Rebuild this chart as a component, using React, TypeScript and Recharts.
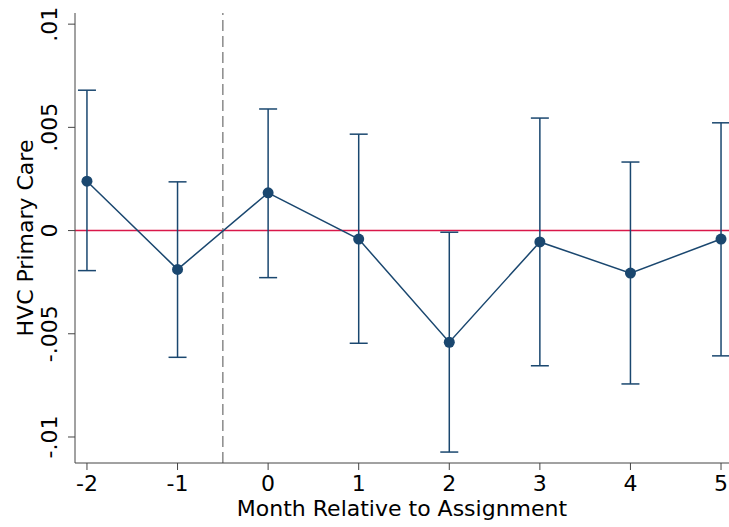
import React from "react";
import {
  ComposedChart,
  Line,
  XAxis,
  YAxis,
  ErrorBar,
  ReferenceLine,
} from "recharts";

const months = [-2, -1, 0, 1, 2, 3, 4, 5];
const estimates = [0.00239, -0.00188, 0.00183, -0.00041, -0.00541, -0.00055, -0.00206, -0.00041];
const lowerCI = [-0.00194, -0.00614, -0.00228, -0.00546, -0.01073, -0.00655, -0.00743, -0.00607];
const upperCI = [0.0068, 0.00236, 0.00589, 0.00467, -0.00008, 0.00545, 0.00332, 0.00522];

const yTicks = [-0.01, -0.005, 0, 0.005, 0.01];
const yTickLabels = ["-.01", "-.005", "0", ".005", ".01"];
const xTicks = [-2, -1, 0, 1, 2, 3, 4, 5];

const data = months.map((m, i) => ({
  x: m,
  y: estimates[i],
  err: [estimates[i] - lowerCI[i], upperCI[i] - estimates[i]],
}));

const NAVY = "#1a476f";
const FONT = "DejaVu Sans, sans-serif";
const AXIS = "#444444";
const FS = 22;

const YTick = (props: any) => {
  const { x, y, payload } = props;
  const idx = yTicks.indexOf(payload.value);
  const label = idx >= 0 ? yTickLabels[idx] : String(payload.value);
  return (
    <text
      x={x}
      y={y}
      transform={`rotate(-90 ${x} ${y})`}
      textAnchor="middle"
      fontSize={FS}
      fontFamily={FONT}
      fill="#000"
    >
      {label}
    </text>
  );
};

const XTick = (props: any) => {
  const { x, y, payload } = props;
  return (
    <text x={x} y={y + 15} textAnchor="middle" fontSize={FS} fontFamily={FONT} fill="#000">
      {payload.value}
    </text>
  );
};

const YTitle = (props: any) => {
  const vb = props.viewBox || {};
  const cx = 33;
  const cy = vb.y + vb.height / 2;
  return (
    <text
      x={cx}
      y={cy}
      transform={`rotate(-90 ${cx} ${cy})`}
      textAnchor="middle"
      fontSize={FS}
      fontFamily={FONT}
      fill="#000"
    >
      HVC Primary Care
    </text>
  );
};

export default function App() {
  return (
    <div style={{ position: "absolute", left: 0, top: 0, width: 729, height: 527, background: "#fff" }}>
      <ComposedChart
        width={729}
        height={527}
        data={data}
        margin={{ top: 13, right: 0, bottom: 0, left: 0 }}
      >
        <XAxis
          type="number"
          dataKey="x"
          domain={[-2.132, 5.088]}
          ticks={xTicks}
          allowDataOverflow
          height={64}
          tickSize={7}
          tickMargin={6}
          stroke={AXIS}
          tick={<XTick />}
          label={{
            value: "Month Relative to Assignment",
            position: "insideBottom",
            offset: 11,
            fontSize: FS,
            fontFamily: FONT,
            fill: "#000",
          }}
        />
        <YAxis
          type="number"
          domain={[-0.01126, 0.01054]}
          ticks={yTicks}
          allowDataOverflow
          width={75}
          tickSize={7}
          tickMargin={11}
          stroke={AXIS}
          tick={<YTick />}
          label={<YTitle />}
        />
        <ReferenceLine y={0} stroke="#d9184a" strokeWidth={1.5} />
        <ReferenceLine x={-0.5} stroke="#8a8a8a" strokeWidth={1.5} strokeDasharray="11 5" />
        <Line
          dataKey="y"
          stroke={NAVY}
          strokeWidth={1.5}
          dot={{ r: 5.5, fill: NAVY, stroke: NAVY, strokeWidth: 0 }}
          activeDot={false}
          isAnimationActive={false}
        >
          <ErrorBar dataKey="err" direction="y" width={9} stroke={NAVY} strokeWidth={1.5} isAnimationActive={false} />
        </Line>
      </ComposedChart>
    </div>
  );
}
